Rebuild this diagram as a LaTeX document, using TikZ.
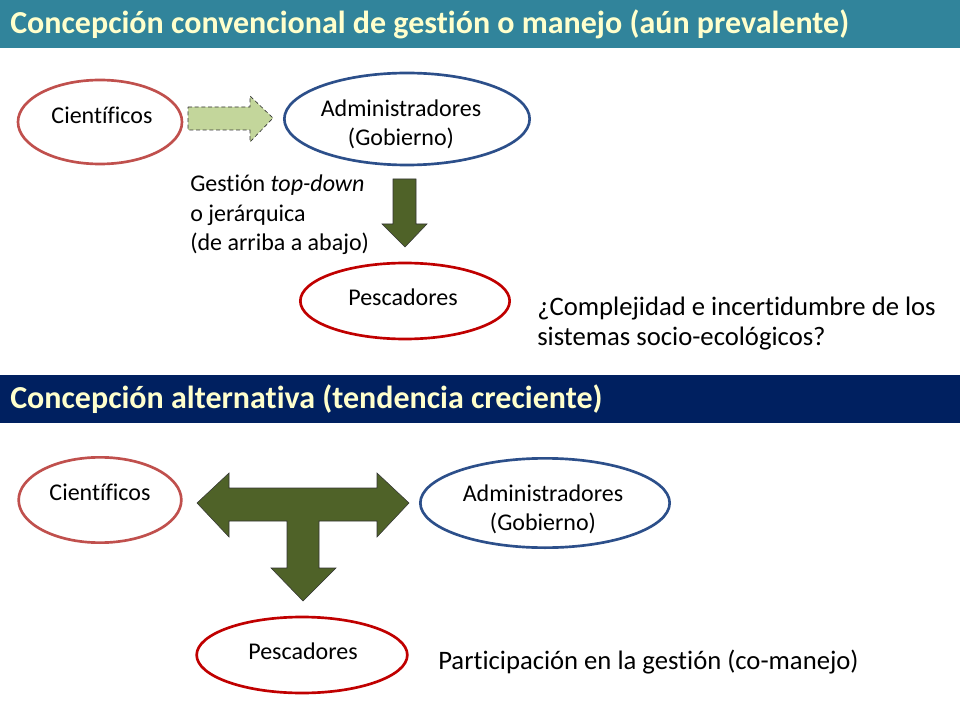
\documentclass[tikz,border=0pt]{standalone}
\usepackage{fontspec}
\setmainfont{Carlito}[Ligatures=NoCommon]
\usepackage{tikz}
\usetikzlibrary{shapes.geometric}

\definecolor{tealbar}{HTML}{31849B}
\definecolor{navybar}{HTML}{002060}
\definecolor{titletxt}{HTML}{FFFFCC}
\definecolor{scired}{HTML}{C0504D}
\definecolor{fishred}{HTML}{C00000}
\definecolor{govblue}{HTML}{2C4F8A}
\definecolor{olivefill}{HTML}{4F6228}
\definecolor{palegreen}{HTML}{C3D69B}

\tikzset{
  oval/.style = {ellipse, draw, line width=2pt, inner sep=0pt},
  lbl/.style = {align=center, inner sep=0pt, font=\fontsize{18}{21.75}\selectfont},
  bigtxt/.style = {align=left, anchor=west, inner sep=0pt, font=\fontsize{20}{22.5}\selectfont},
  bartitle/.style = {anchor=west, inner sep=0pt, text=titletxt, font=\bfseries\fontsize{24}{28}\selectfont},
  blockarrow/.style = {fill=olivefill, draw=black!80, line width=.4pt}
}

\begin{document}
\begin{tikzpicture}[x=0.75pt, y=-0.75pt]
        \useasboundingbox (0,0) rectangle (960,720);

        % cabeceras
        \fill[tealbar] (0,0) rectangle (960,48);
        \node[bartitle] (titleA) at (10,24) {Concepción convencional de gestión o manejo (aún prevalente)};
        \fill[navybar] (0,375) rectangle (960,423);
        \node[bartitle] (titleB) at (10,399) {Concepción alternativa (tendencia creciente)};

        % concepcion convencional
        \node[oval, draw=scired, minimum width=123pt, minimum height=63pt] (cienA) at (100,122) {};
        \node[lbl] (cienAtxt) at (102,115) {Científicos};
        \node[oval, draw=govblue, minimum width=184pt, minimum height=69pt] (adminA) at (407,119) {};
        \node[lbl] (adminAtxt) at (401,124) {Administradores\\(Gobierno)};
        \node[oval, draw=fishred, minimum width=157pt, minimum height=57pt] (pescA) at (405,301) {};
        \node[lbl] (pescAtxt) at (403,297) {Pescadores};

        \draw[fill=palegreen, draw=black!80, densely dashed, line width=.5pt]
            (188,107) -- (250,107) -- (250,96) -- (273,118) -- (250,142) -- (250,130) -- (188,130) -- cycle;
        \draw[blockarrow] (393,179) -- (416,179) -- (416,224) -- (427,224) -- (405,247)
            -- (382,224) -- (393,224) -- cycle;

        \node[bigtxt, font=\fontsize{18}{22}\selectfont] (topdown) at (190,215)
            {Gestión \textit{top-down}\\o jerárquica\\(de arriba a abajo)};
        \node[bigtxt] (complex) at (537,324)
            {¿Complejidad e incertidumbre de los\\sistemas socio-ecológicos?};

        % concepcion alternativa
        \node[oval, draw=scired, minimum width=122pt, minimum height=64pt] (cienB) at (100,500) {};
        \node[lbl] (cienBtxt) at (100,492) {Científicos};
        \node[oval, draw=govblue, minimum width=187pt, minimum height=67pt] (adminB) at (545,503) {};
        \node[lbl] (adminBtxt) at (543,509) {Administradores\\(Gobierno)};
        \node[oval, draw=fishred, minimum width=158pt, minimum height=57pt] (pescB) at (302,655) {};
        \node[lbl] (pescBtxt) at (303,651) {Pescadores};

        \draw[blockarrow] (197,503) -- (229,473) -- (229,488) -- (377,488) -- (377,473) -- (409,503)
            -- (377,537) -- (377,521) -- (319,521) -- (319,568) -- (336,568) -- (303,601)
            -- (271,568) -- (287,568) -- (287,521) -- (229,521) -- (229,537) -- cycle;

        \node[bigtxt] (partic) at (438,662) {Participación en la gestión (co-manejo)};
    \end{tikzpicture}
\end{document}
